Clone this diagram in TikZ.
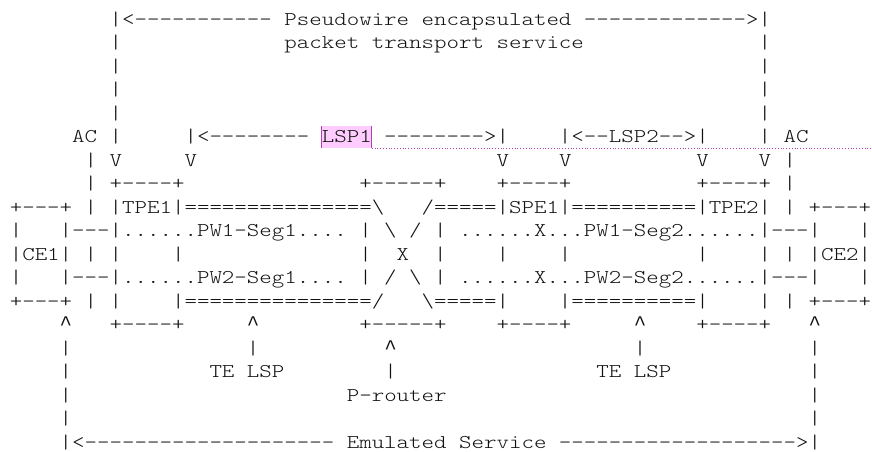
\documentclass[tikz,border=0pt]{standalone}
\usepackage{fontspec}
% thin serif typewriter face, widened to a 12.48pt character cell
\setmonofont{lmmonolt10-regular.otf}[FakeStretch=1.2192]
% a plain caret glyph with the same 12.48pt cell
\newfontfamily\caretfont{Liberation Mono}
% one character cell of the monospaced grid
\newlength\cw
\setlength\cw{12.482pt}
\newcommand\sk[1]{\hspace*{#1\cw}}
\newcommand\bksl{\textbackslash}
\newcommand\crt{{\caretfont\fontsize{20.8}{23.5}\selectfont\textasciicircum}}
\definecolor{hlfill}{HTML}{FFCCFF}
\definecolor{hledge}{HTML}{B040B0}
\definecolor{ink}{HTML}{111111}
\tikzset{
  asc/.style={anchor=base west, inner sep=0pt, outer sep=0pt,
    font=\fontsize{19.5}{23.5}\selectfont\ttfamily, text=ink},
  hlline/.style={hledge, line width=0.8pt}
}
\begin{document}
\begin{tikzpicture}[x=1pt,y=-1pt]
\useasboundingbox (0,0) rectangle (872,451);
% highlight behind the LSP1 label
\fill[hlfill] (321.8,126) rectangle (371.7,148);
\draw[hlline] (321.8,126) -- (321.8,148);
\draw[hlline] (371.7,126) -- (371.7,148);
\draw[hlline, dotted] (371.7,148) -- (872,148);
% rows of the figure, one baseline every 23.5
\node[asc] (r1)  at (9.8,25.0)  {\sk{8}|<-----------\sk{1}Pseudowire\sk{1}encapsulated\sk{1}------------->|};
\node[asc] (r2)  at (9.8,48.5)  {\sk{8}|\sk{13}packet\sk{1}transport\sk{1}service\sk{14}|};
\node[asc] (r3)  at (9.8,72.0)  {\sk{8}|\sk{51}|};
\node[asc] (r4)  at (9.8,95.5)  {\sk{8}|\sk{51}|};
\node[asc] (r5)  at (9.8,119.0) {\sk{8}|\sk{51}|};
\node[asc] (r6)  at (9.8,142.5) {\sk{5}AC\sk{1}|\sk{5}|<--------\sk{1}LSP1\sk{1}-------->|\sk{4}|<--LSP2-->|\sk{4}|\sk{1}AC};
\node[asc] (r7)  at (9.8,166.0) {\sk{6}|\sk{1}V\sk{5}V\sk{24}V\sk{4}V\sk{10}V\sk{4}V\sk{1}|};
\node[asc] (r8)  at (9.8,189.5) {\sk{6}|\sk{1}+----+\sk{14}+-----+\sk{4}+----+\sk{10}+----+\sk{1}|};
\node[asc] (r9)  at (9.8,213.0) {+---+\sk{1}|\sk{1}|TPE1|===============\bksl\sk{3}/=====|SPE1|==========|TPE2|\sk{1}|\sk{1}+---+};
\node[asc] (r10) at (9.8,236.5) {|\sk{3}|---|......PW1-Seg1....\sk{1}|\sk{1}\bksl\sk{1}/\sk{1}|\sk{1}......X...PW1-Seg2......|---|\sk{3}|};
\node[asc] (r11) at (9.8,260.0) {|CE1|\sk{1}|\sk{1}|\sk{4}|\sk{14}|\sk{2}X\sk{2}|\sk{4}|\sk{4}|\sk{10}|\sk{4}|\sk{1}|\sk{1}|CE2|};
\node[asc] (r12) at (9.8,283.5) {|\sk{3}|---|......PW2-Seg1....\sk{1}|\sk{1}/\sk{1}\bksl\sk{1}|\sk{1}......X...PW2-Seg2......|---|\sk{3}|};
\node[asc] (r13) at (9.8,307.0) {+---+\sk{1}|\sk{1}|\sk{4}|===============/\sk{3}\bksl=====|\sk{4}|==========|\sk{4}|\sk{1}|\sk{1}+---+};
\node[asc] (r14) at (9.8,330.5) {\sk{4}\crt\sk{3}+----+\sk{5}\crt\sk{8}+-----+\sk{4}+----+\sk{5}\crt\sk{4}+----+\sk{3}\crt};
\node[asc] (r15) at (9.8,354.0) {\sk{4}|\sk{14}|\sk{10}\crt\sk{19}|\sk{13}|};
\node[asc] (r16) at (9.8,377.5) {\sk{4}|\sk{11}TE\sk{1}LSP\sk{8}|\sk{16}TE\sk{1}LSP\sk{11}|};
\node[asc] (r17) at (9.8,401.0) {\sk{4}|\sk{22}P-router\sk{29}|};
\node[asc] (r18) at (9.8,424.5) {\sk{4}|\sk{59}|};
\node[asc] (r19) at (9.8,448.0) {\sk{4}|<--------------------\sk{1}Emulated\sk{1}Service\sk{1}------------------->|};
\end{tikzpicture}
\end{document}
